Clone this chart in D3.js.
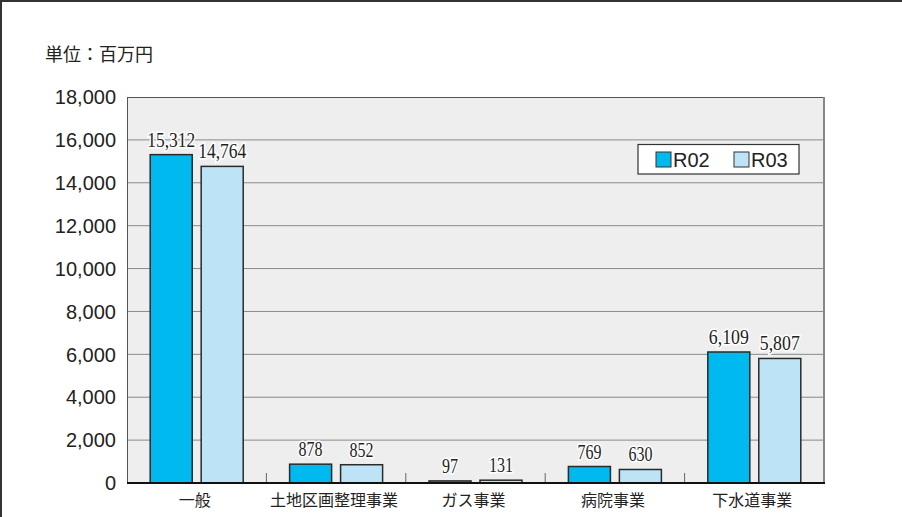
<!DOCTYPE html>
<html><head><meta charset="utf-8">
<script src="https://cdn.jsdelivr.net/npm/d3@7"></script>
<style>html,body{margin:0;padding:0;background:#fff;}svg{display:block;}</style>
</head><body>
<svg id="c" width="902" height="517"></svg>
<script>
const categories = ["一般", "土地区画整理事業", "ガス事業", "病院事業", "下水道事業"];
const seriesNames = ["R02", "R03"];
const r02 = [15312, 878, 97, 769, 6109];
const r03 = [14764, 852, 131, 630, 5807];
const yTicks = [0, 2000, 4000, 6000, 8000, 10000, 12000, 14000, 16000, 18000];
const unitLabel = "単位：百万円";
const colors = ["#00b9ef", "#bde3f7"];

const svg = d3.select("#c");
const M = {left: 127, top: 97, right: 824, bottom: 483};

// outer frame
svg.append("rect").attr("x", 1).attr("y", 1).attr("width", 920).attr("height", 560)
  .attr("fill", "none").attr("stroke", "#333").attr("stroke-width", 2);

const x = d3.scaleBand().domain(categories).range([M.left, M.right]).paddingInner(0).paddingOuter(0);
const xs = d3.scaleBand().domain(seriesNames).range([0, x.bandwidth()]).paddingInner(0.176).paddingOuter(0.455);
const y = d3.scaleLinear().domain([0, 18000]).range([M.bottom, M.top]);

// plot bg
svg.append("rect").attr("x", M.left).attr("y", M.top).attr("width", M.right - M.left).attr("height", M.bottom - M.top)
  .attr("fill", "#eeeeee");

// gridlines
svg.append("g").selectAll("line").data(yTicks.filter(d => d > 0 && d < 18000)).join("line")
  .attr("x1", M.left).attr("x2", M.right).attr("y1", d => y(d)).attr("y2", d => y(d))
  .attr("stroke", "#8a8a8a").attr("stroke-width", 1);

// plot borders
svg.append("line").attr("x1", M.left).attr("x2", M.right).attr("y1", M.top + 0.5).attr("y2", M.top + 0.5).attr("stroke", "#555").attr("stroke-width", 1);
svg.append("line").attr("x1", M.left + 0.5).attr("x2", M.left + 0.5).attr("y1", M.top).attr("y2", M.bottom).attr("stroke", "#555").attr("stroke-width", 1);
svg.append("line").attr("x1", M.right).attr("x2", M.right).attr("y1", M.top).attr("y2", M.bottom).attr("stroke", "#888").attr("stroke-width", 2);

// category separator ticks
svg.append("g").selectAll("line").data(categories.slice(1)).join("line")
  .attr("x1", d => x(d)).attr("x2", d => x(d)).attr("y1", M.bottom).attr("y2", M.bottom - 10)
  .attr("stroke", "#666").attr("stroke-width", 1);

// bars
const data = [];
categories.forEach((c, i) => {
  data.push({c, s: "R02", v: r02[i], col: colors[0]});
  data.push({c, s: "R03", v: r03[i], col: colors[1]});
});
svg.append("g").selectAll("rect").data(data).join("rect")
  .attr("x", d => x(d.c) + xs(d.s))
  .attr("y", d => y(d.v))
  .attr("width", xs.bandwidth())
  .attr("height", d => Math.max(1, y(0) - y(d.v)))
  .attr("fill", d => d.col).attr("stroke", "#2a2a2a").attr("stroke-width", 1.5);

// x axis line
svg.append("line").attr("x1", M.left).attr("x2", M.right + 1).attr("y1", M.bottom).attr("y2", M.bottom)
  .attr("stroke", "#111").attr("stroke-width", 2);

// value labels
const fmt = d3.format(",");
const fs = 20;
svg.append("g").selectAll("text").data(data).join("text")
  .attr("x", d => x(d.c) + xs(d.s) + xs.bandwidth() / 2)
  .attr("y", d => y(d.v) - 8)
  .attr("text-anchor", "middle")
  .attr("font-family", "'Liberation Serif', 'DejaVu Serif', serif")
  .attr("font-size", fs)
  .attr("fill", "#222")
  .attr("stroke", "#fff").attr("stroke-width", 3).attr("paint-order", "stroke")
  .attr("textLength", d => fmt(d.v).length * fs * 0.4)
  .attr("lengthAdjust", "spacingAndGlyphs")
  .text(d => fmt(d.v));

// y axis labels
svg.append("g").selectAll("text").data(yTicks).join("text")
  .attr("x", 116).attr("y", d => y(d))
  .attr("dy", "0.36em")
  .attr("text-anchor", "end")
  .attr("font-family", "'Liberation Sans', Arial, sans-serif")
  .attr("font-size", 20)
  .attr("fill", "#222")
  .text(d => fmt(d));

// x axis labels
svg.append("g").selectAll("text").data(categories).join("text")
  .attr("x", d => x(d) + x.bandwidth() / 2 - 2).attr("y", 500)
  .attr("dy", "0.36em")
  .attr("text-anchor", "middle")
  .attr("font-family", "'Noto Sans CJK JP', sans-serif")
  .attr("font-size", 16)
  .attr("fill", "#222")
  .text(d => d);

// unit label
svg.append("text").attr("x", 45).attr("y", 55).attr("dy", "0.36em")
  .attr("font-family", "'Noto Sans CJK JP', sans-serif").attr("font-size", 18).attr("fill", "#222")
  .text(unitLabel);

// legend
const lg = svg.append("g");
lg.append("rect").attr("x", 638).attr("y", 144.5).attr("width", 161).attr("height", 29.5)
  .attr("fill", "#fff").attr("stroke", "#333").attr("stroke-width", 1.2);
const legX = d3.scaleOrdinal().domain(seriesNames).range([656, 734]);
seriesNames.forEach((s, i) => {
  lg.append("rect").attr("x", legX(s)).attr("y", 152).attr("width", 15).attr("height", 15)
    .attr("fill", colors[i]).attr("stroke", "#333").attr("stroke-width", 1);
  lg.append("text").attr("x", legX(s) + 17).attr("y", 159.5).attr("dy", "0.36em")
    .attr("font-family", "'Liberation Sans', Arial, sans-serif").attr("font-size", 20).attr("fill", "#222")
    .text(s);
});
</script>
</body></html>
